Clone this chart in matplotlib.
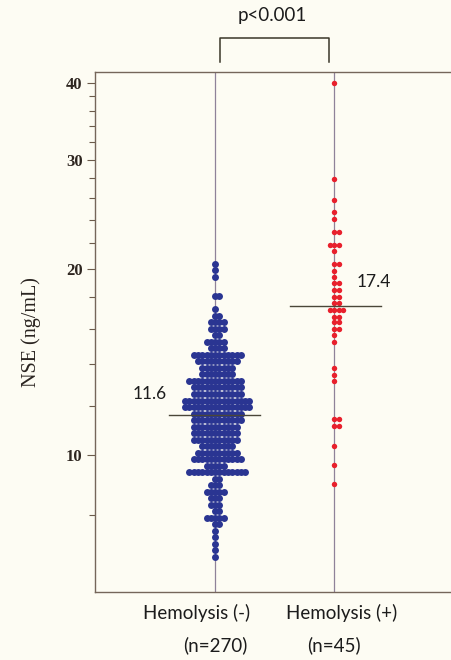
import numpy as np
import matplotlib.pyplot as plt
from matplotlib.ticker import FixedLocator, NullFormatter
import matplotlib.transforms as mtransforms

# dot rows (value in ng/mL) and number of dots per row
blue_rows = [20.37, 19.89, 19.41, 18.05, 17.19, 16.79, 16.38, 15.99, 15.61, 15.23,
             14.87, 14.51, 14.16, 13.83, 13.49, 13.17, 12.85, 12.55, 12.24, 11.96,
             11.66, 11.39, 11.11, 10.85, 10.58, 10.34, 10.08, 9.85, 9.61, 9.39,
             9.15, 8.94, 8.71, 8.52, 8.30, 8.12, 7.91, 7.73, 7.53, 7.37,
             7.18, 7.02, 6.84]
blue_counts = [1, 1, 1, 2, 1, 2, 4, 4, 2, 5,
               4, 12, 10, 8, 8, 13, 12, 12, 16, 16,
               12, 12, 11, 11, 11, 8, 10, 12, 5, 14,
               2, 3, 5, 3, 3, 2, 5, 2, 1, 1,
               1, 1, 1]

red_rows = [40.0, 27.9, 25.86, 24.66, 24.05, 22.89, 21.87, 21.33, 20.35, 19.86,
            19.36, 18.93, 18.47, 18.02, 17.57, 17.17, 16.72, 16.37, 15.97, 15.62,
            15.23, 13.81, 13.47, 13.17, 11.42, 11.14, 10.34, 9.62, 8.97]
red_counts = [1, 1, 1, 1, 1, 2, 3, 1, 2, 1,
              1, 2, 2, 2, 2, 4, 2, 2, 2, 1,
              1, 1, 1, 1, 2, 2, 1, 1, 1]

groups = ['Hemolysis (-)', 'Hemolysis (+)']
n_labels = ['(n=270)', '(n=45)']
medians = [11.6, 17.4]
p_text = 'p<0.001'

bg = '#fdfcf3'
txt = '#1c1c1c'
fig = plt.figure(figsize=(4.52, 6.60), dpi=100, facecolor=bg)
ax = fig.add_axes([95 / 452, 68 / 660, 1 - 95 / 452, 520 / 660], facecolor=bg)


def swarm(rows, counts, xc, step):
    xs, ys = [], []
    for v, n in zip(rows, counts):
        for i in range(n):
            k = (i + 1) // 2 * (1 if i % 2 else -1)
            xs.append(xc + k * step)
            ys.append(v)
    return xs, ys


ax.axvline(1, color='#8f8299', lw=0.9, zorder=1)
ax.axvline(2, color='#8f8299', lw=0.9, zorder=1)

bx, by = swarm(blue_rows, blue_counts, 1, 0.036)
ax.plot(bx, by, 'o', ms=5.0, color='#2a3592', mec='#2a3592', mew=0, zorder=3)
rx, ry = swarm(red_rows, red_counts, 2, 0.039)
ax.plot(rx, ry, 'o', ms=3.9, color='#e8202c', mec='#e8202c', mew=0, zorder=3)

ax.plot([0.61, 1.38], [medians[0]] * 2, color='#4a4638', lw=1.0, zorder=4)
ax.plot([1.63, 2.39], [medians[1]] * 2, color='#4a4638', lw=1.0, zorder=4)
ax.text(0.45, 12.55, '11.6', fontsize=12.5, family='Lato', color=txt,
        ha='center', va='center')
ax.text(2.33, 19.05, '17.4', fontsize=12.5, family='Lato', color=txt,
        ha='center', va='center')

ax.set_yscale('log')
ax.set_ylim(6, 41.6)
ax.set_xlim(-0.01, 2.99)
ax.yaxis.set_major_locator(FixedLocator([10, 20, 30, 40]))
ax.yaxis.set_minor_locator(FixedLocator([8, 12, 14, 16, 18, 22, 24, 26, 28,
                                         32, 34, 36, 38]))
ax.yaxis.set_minor_formatter(NullFormatter())
ax.set_yticklabels(['10', '20', '30', '40'], family='Liberation Serif',
                   fontsize=12, fontweight='bold', color='#2e2620')
ax.tick_params(axis='y', which='major', length=6, width=0.8, color='#6b5a4a', pad=3)
ax.tick_params(axis='y', which='minor', length=4, width=0.8, color='#6b5a4a')
ax.set_xticks([])
for s in ['left', 'bottom', 'top']:
    ax.spines[s].set_color('#75665a')
    ax.spines[s].set_linewidth(1.0)
ax.spines['right'].set_visible(False)

ax.set_ylabel('NSE (ng/mL)', family='Liberation Serif', fontsize=14.5,
              color='#2a2420', labelpad=18)

# category labels under the axis
trans = mtransforms.blended_transform_factory(ax.transData, fig.transFigure)
ax.text(0.84, 1 - 613 / 660, groups[0], transform=trans, fontsize=13.5,
        family='Lato', ha='center', va='center', color=txt)
ax.text(2.06, 1 - 613 / 660, groups[1], transform=trans, fontsize=13.5,
        family='Lato', ha='center', va='center', color=txt)
ax.text(1.0, 1 - 645 / 660, n_labels[0], transform=trans, fontsize=13.5,
        family='Lato', ha='center', va='center', color=txt)
ax.text(2.0, 1 - 645 / 660, n_labels[1], transform=trans, fontsize=13.5,
        family='Lato', ha='center', va='center', color=txt)

# significance bracket
trans2 = mtransforms.blended_transform_factory(ax.transData, ax.transAxes)
ax.plot([1.04, 1.04, 1.955, 1.955], [1.019, 1.065, 1.065, 1.019],
        transform=trans2, color='#3a3628', lw=1.1, clip_on=False)
ax.text(1.48, 1 - 15 / 660, p_text, transform=trans, fontsize=13.5,
        family='Lato', ha='center', va='center', color=txt)

fig.savefig('out.png', dpi=100, facecolor=bg)
